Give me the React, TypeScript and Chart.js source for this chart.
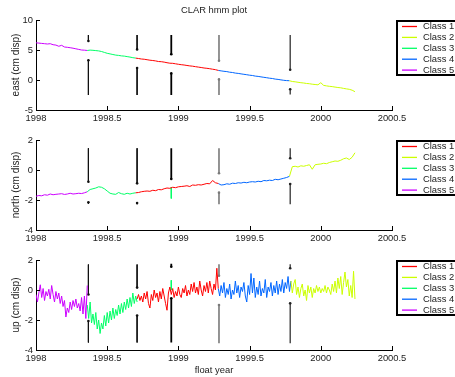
import React, { useEffect, useRef } from 'react';
import { Chart, registerables } from 'chart.js';

Chart.register(...registerables);

// ---------- sampling epochs (float year) for east / north ----------
const epochs = [
  1998.00, 1998.02, 1998.04, 1998.06, 1998.08, 1998.10, 1998.12, 1998.14, 1998.16, 1998.18,
  1998.20, 1998.22, 1998.24, 1998.26, 1998.28, 1998.30, 1998.32, 1998.34, 1998.36, 1998.38,
  1998.40, 1998.42, 1998.44, 1998.46, 1998.48, 1998.50, 1998.52, 1998.54, 1998.56, 1998.58,
  1998.60, 1998.62, 1998.64, 1998.66, 1998.68, 1998.70, 1998.72, 1998.74, 1998.76, 1998.78,
  1998.80, 1998.82, 1998.84, 1998.86, 1998.88, 1998.90, 1998.92, 1998.94, 1998.96, 1998.98,
  1999.00, 1999.02, 1999.04, 1999.06, 1999.08, 1999.10, 1999.12, 1999.14, 1999.16, 1999.18,
  1999.20, 1999.22, 1999.24, 1999.26, 1999.28, 1999.30, 1999.32, 1999.34, 1999.36, 1999.38,
  1999.40, 1999.42, 1999.44, 1999.46, 1999.48, 1999.50, 1999.52, 1999.54, 1999.56, 1999.58,
  1999.60, 1999.62, 1999.64, 1999.66, 1999.68, 1999.70, 1999.72, 1999.74, 1999.76, 1999.78,
  1999.80, 1999.82, 1999.84, 1999.86, 1999.88, 1999.90, 1999.92, 1999.94, 1999.96, 1999.98,
  2000.00, 2000.02, 2000.04, 2000.06, 2000.08, 2000.10, 2000.12, 2000.14, 2000.16, 2000.18,
  2000.20, 2000.22, 2000.24,
];

// ---------- denser sampling epochs for up ----------
const upEpochs = [
  1998.00, 1998.01, 1998.02, 1998.03, 1998.04, 1998.05, 1998.06, 1998.07, 1998.08, 1998.09,
  1998.10, 1998.11, 1998.12, 1998.13, 1998.14, 1998.15, 1998.16, 1998.17, 1998.18, 1998.19,
  1998.20, 1998.21, 1998.22, 1998.23, 1998.24, 1998.25, 1998.26, 1998.27, 1998.28, 1998.29,
  1998.30, 1998.31, 1998.32, 1998.33, 1998.34, 1998.35, 1998.36, 1998.37, 1998.38, 1998.39,
  1998.40, 1998.41, 1998.42, 1998.43, 1998.44, 1998.45, 1998.46, 1998.47, 1998.48, 1998.49,
  1998.50, 1998.51, 1998.52, 1998.53, 1998.54, 1998.55, 1998.56, 1998.57, 1998.58, 1998.59,
  1998.60, 1998.61, 1998.62, 1998.63, 1998.64, 1998.65, 1998.66, 1998.67, 1998.68, 1998.69,
  1998.70, 1998.71, 1998.72, 1998.73, 1998.74, 1998.75, 1998.76, 1998.77, 1998.78, 1998.79,
  1998.80, 1998.81, 1998.82, 1998.83, 1998.84, 1998.85, 1998.86, 1998.87, 1998.88, 1998.89,
  1998.90, 1998.91, 1998.92, 1998.93, 1998.94, 1998.95, 1998.96, 1998.97, 1998.98, 1998.99,
  1999.00, 1999.01, 1999.02, 1999.03, 1999.04, 1999.05, 1999.06, 1999.07, 1999.08, 1999.09,
  1999.10, 1999.11, 1999.12, 1999.13, 1999.14, 1999.15, 1999.16, 1999.17, 1999.18, 1999.19,
  1999.20, 1999.21, 1999.22, 1999.23, 1999.24, 1999.25, 1999.26, 1999.27, 1999.28, 1999.29,
  1999.30, 1999.31, 1999.32, 1999.33, 1999.34, 1999.35, 1999.36, 1999.37, 1999.38, 1999.39,
  1999.40, 1999.41, 1999.42, 1999.43, 1999.44, 1999.45, 1999.46, 1999.47, 1999.48, 1999.49,
  1999.50, 1999.51, 1999.52, 1999.53, 1999.54, 1999.55, 1999.56, 1999.57, 1999.58, 1999.59,
  1999.60, 1999.61, 1999.62, 1999.63, 1999.64, 1999.65, 1999.66, 1999.67, 1999.68, 1999.69,
  1999.70, 1999.71, 1999.72, 1999.73, 1999.74, 1999.75, 1999.76, 1999.77, 1999.78, 1999.79,
  1999.80, 1999.81, 1999.82, 1999.83, 1999.84, 1999.85, 1999.86, 1999.87, 1999.88, 1999.89,
  1999.90, 1999.91, 1999.92, 1999.93, 1999.94, 1999.95, 1999.96, 1999.97, 1999.98, 1999.99,
  2000.00, 2000.01, 2000.02, 2000.03, 2000.04, 2000.05, 2000.06, 2000.07, 2000.08, 2000.09,
  2000.10, 2000.11, 2000.12, 2000.13, 2000.14, 2000.15, 2000.16, 2000.17, 2000.18, 2000.19,
  2000.20, 2000.21, 2000.22, 2000.23, 2000.24,
];

// ---------- classes ----------
const classNames = ['Class 1', 'Class 2', 'Class 3', 'Class 4', 'Class 5'];
const classColors = ['#ff0000', '#ccff00', '#00ff66', '#0066ff', '#cc00ff'];
// index into the epoch list where each class segment begins (Class 1..5)
const classStart = [35, 89, 18, 64, 0];
const upClassStart = [71, 179, 36, 128, 0];

// ---------- east (cm) ----------
const eastClass1 = [3.65, 3.58, 3.5, 3.46, 3.38, 3.3, 3.25, 3.18, 3.08, 3.05, 2.98, 2.88, 2.8, 2.78, 2.7, 2.62, 2.55, 2.5, 2.42, 2.35, 2.3, 2.22, 2.15, 2.08, 2.0, 1.95, 1.88, 1.8, 1.72, 1.6];
const eastClass2 = [-0.12, -0.25, -0.3, -0.38, -0.45, -0.5, -0.58, -0.62, -0.7, -0.75, -0.8, -0.45, -0.9, -0.98, -1.05, -1.1, -1.18, -1.25, -1.3, -1.4, -1.48, -1.55, -1.7, -1.95];
const eastClass3 = [4.92, 4.98, 4.95, 4.9, 4.85, 4.75, 4.6, 4.45, 4.35, 4.25, 4.15, 4.1, 4.02, 3.98, 3.9, 3.82, 3.72, 3.65];
const eastClass4 = [1.6, 1.52, 1.45, 1.4, 1.3, 1.25, 1.15, 1.1, 1.02, 0.95, 0.88, 0.8, 0.75, 0.65, 0.6, 0.52, 0.45, 0.38, 0.3, 0.25, 0.15, 0.1, 0.02, -0.05, -0.1, -0.12];
const eastClass5 = [6.2, 6.15, 6.1, 6.05, 6.0, 6.05, 5.88, 5.82, 5.62, 5.78, 5.5, 5.45, 5.38, 5.3, 5.2, 5.1, 5.0, 4.97, 4.92];

// ---------- north (cm) ----------
const northClass1 = [-1.52, -1.5, -1.45, -1.42, -1.4, -1.42, -1.35, -1.38, -1.3, -1.32, -1.25, -1.2, -1.22, -1.15, -1.18, -1.12, -1.1, -1.08, -1.05, -1.1, -1.0, -1.02, -0.98, -1.0, -0.95, -0.9, -0.92, -0.7, -0.85, -0.9];
const northClass2 = [-0.42, 0.22, 0.25, 0.2, 0.28, 0.25, 0.3, 0.35, 0.05, 0.35, 0.38, 0.4, 0.45, 0.42, 0.5, 0.55, 0.6, 0.58, 0.65, 0.75, 0.8, 0.7, 0.85, 1.15];
const northClass3 = [-1.45, -1.3, -1.25, -1.2, -1.12, -1.15, -1.25, -1.4, -1.55, -1.6, -1.62, -1.5, -1.58, -1.62, -1.55, -1.6, -1.55, -1.52];
const northClass4 = [-0.9, -1.0, -0.98, -0.92, -0.95, -0.88, -0.9, -0.85, -0.87, -0.82, -0.85, -0.8, -0.78, -0.8, -0.75, -0.78, -0.7, -0.72, -0.68, -0.7, -0.62, -0.65, -0.6, -0.55, -0.5, -0.42];
const northClass5 = [-1.75, -1.7, -1.72, -1.65, -1.68, -1.6, -1.65, -1.62, -1.6, -1.58, -1.63, -1.6, -1.55, -1.6, -1.58, -1.55, -1.57, -1.52, -1.45];

// ---------- up (cm) ----------
const upClass1 = [
  -0.6, -0.3, -0.7, -0.4, -0.8, -0.2, -0.6, -0.1, -0.9, -1.2, -0.3, -0.7, 0.0, -0.5, -0.2, -0.8, -0.1, -0.6, 0.1, -0.4,
  -0.9, -1.35, -0.2, 0.2, -0.3, 0.1, -0.5, -0.1, -0.4, 0.2, -0.3, -0.5, 0.1, -0.2, 0.3, -0.4, 0.0, -0.3, 0.4, -0.1,
  0.5, -0.2, 0.2, -0.3, 0.6, 0.0, -0.4, 0.3, -0.1, 0.5, -0.2, 0.6, 0.1, -0.3, 0.4, 0.0, 1.45, 0.1,
];
const upClass2 = [
  0.6, -0.2, 0.4, 0.7, -0.3, 0.2, -0.5, 0.1, 0.4, -0.4, 0.0, -0.7, 0.3, -0.2, 0.2, -0.5, 0.1, -0.2, 0.3, -0.1,
  0.2, -0.2, 0.1, -0.1, 0.3, -0.2, 0.2, 0.0, -0.3, 0.4, -0.1, 0.6, -0.2, 0.8, 0.1, 0.9, -0.3, 0.5, 1.2, 0.2,
  0.7, -0.4, 0.3, -0.5, 1.25, -0.6,
];
const upClass3 = [
  -1.0, -1.9, -0.8, -2.2, -1.6, -2.3, -1.5, -2.6, -2.0, -2.9, -2.2, -2.6, -1.7, -2.4, -1.5, -2.2, -1.4, -2.0, -1.2, -1.9,
  -1.3, -1.7, -1.0, -1.6, -0.9, -1.5, -0.8, -1.3, -0.6, -1.2, -0.5, -1.1, -0.2, -0.9, -0.4, -0.8,
];
const upClass4 = [
  0.1, -0.4, 0.3, -0.2, 0.5, -0.5, 0.1, -0.3, 0.4, -0.6, 0.0, -0.3, 0.6, -0.2, 0.3, -0.5, 0.2, -0.1, 0.5, -0.4,
  -0.8, 0.3, -0.3, 1.1, -0.2, 0.8, -0.5, 0.2, -0.3, 0.6, -0.4, 0.1, -0.2, 0.7, -0.5, 0.2, -0.1, 0.5, -0.4, 0.3,
  -0.2, 0.6, -0.3, 0.4, -0.1, 0.7, -0.2, 0.5, 0.1, 0.9, -0.1, 0.6,
];
const upClass5 = [
  -0.3, -0.8, -0.2, 0.35, -0.5, 0.1, -0.7, -0.1, -0.4, 0.05, -0.6, 0.3, -0.3, -0.8, -0.1, -0.6, -0.2, -0.9, -0.4, -1.1,
  -0.7, -1.8, -1.2, -1.5, -0.8, -1.3, -0.7, -1.1, -0.6, -1.2, -0.9, -1.4, -0.5, -1.6, -0.4, -1.9, 0.3,
];

// isolated Class 3 sample inside the Class 1 span
const class3SpikeTime = 1998.95;
const northClass3Spike = [-1.15, -1.9];
const upClass3Spike = [0.65, 0.0];

// ---------- change-point markers ----------
const markerTimes = [1998.368, 1998.71, 1998.95, 1999.285, 1999.785];
const eastMarkTop = [7.5, 7.5, 7.5, 7.5, 7.5];
const eastMarkUpperEnd = [6.5, 5.1, 4.3, 3.2, 1.7];
const eastMarkLowerStart = [3.3, 2.0, 1.1, 0.1, -1.55];
const eastMarkBottom = [-2.5, -2.5, -2.5, -2.5, -2.4];
const northMarkTop = [1.45, 1.45, 1.45, 1.45, 1.45];
const northMarkUpperEnd = [-0.78, -0.89, -0.6, -0.22, 0.78];
const northMarkLowerStart = [-2.15, -2.2, null, -1.51, -0.93];
const northMarkBottom = [-2.25, -2.28, null, -2.29, -2.29];
const upMarkTop = [1.7, 1.7, 1.75, 1.71, 1.71];
const upMarkUpperEnd = [-0.3, 0.16, 1.55, 0.95, 1.45];
const upMarkLowerStart = [-2.07, -1.7, -0.55, -1.0, -0.89];
const upMarkBottom = [-3.5, -3.5, -3.5, -3.55, -3.55];
const markerColors = ['#111111', '#111111', '#000000', '#7a7a7a', '#222222'];
const markerWidths = [1, 1, 1.8, 1.6, 1.2];

// ---------- axes ----------
const xMin = 1998;
const xMax = 2000.5;
const xTickStep = 0.5;

const FONT = "'Liberation Sans', Arial, Helvetica, sans-serif";
const TEXT = '#222222';

type Panel = {
  yLabel: string;
  yMin: number;
  yMax: number;
  yStep: number;
  top: number;
  height: number;
  padTop: number;
  xAxisH: number;
  title?: string;
  xTitle?: string;
  times: number[];
  starts: number[];
  classes: number[][];
  spike?: number[];
  mark: (number | null)[][];
};

const panels: Panel[] = [
  {
    yLabel: 'east (cm disp)', yMin: -5, yMax: 10, yStep: 5,
    top: 0, height: 125, padTop: 20, xAxisH: 15, title: 'CLAR hmm plot',
    times: epochs, starts: classStart,
    classes: [eastClass1, eastClass2, eastClass3, eastClass4, eastClass5],
    mark: [eastMarkTop, eastMarkUpperEnd, eastMarkLowerStart, eastMarkBottom],
  },
  {
    yLabel: 'north (cm disp)', yMin: -4, yMax: 2, yStep: 2,
    top: 125, height: 120, padTop: 15, xAxisH: 15,
    times: epochs, starts: classStart,
    classes: [northClass1, northClass2, northClass3, northClass4, northClass5],
    spike: northClass3Spike,
    mark: [northMarkTop, northMarkUpperEnd, northMarkLowerStart, northMarkBottom],
  },
  {
    yLabel: 'up (cm disp)', yMin: -4, yMax: 2, yStep: 2,
    top: 245, height: 132, padTop: 15, xAxisH: 27, xTitle: 'float year',
    times: upEpochs, starts: upClassStart,
    classes: [upClass1, upClass2, upClass3, upClass4, upClass5],
    spike: upClass3Spike,
    mark: [upMarkTop, upMarkUpperEnd, upMarkLowerStart, upMarkBottom],
  },
];

const decor = {
  id: 'decor',
  afterDraw(chart: any, _args: any, opts: any) {
    const ctx = chart.ctx as CanvasRenderingContext2D;
    const area = chart.chartArea;
    const xs = chart.scales.x;
    const ys = chart.scales.y;
    ctx.save();
    // inward tick marks
    ctx.strokeStyle = '#000';
    ctx.lineWidth = 1;
    ctx.beginPath();
    xs.ticks.forEach((t: any) => {
      const px = Math.round(xs.getPixelForValue(t.value)) + 0.5;
      ctx.moveTo(px, area.bottom);
      ctx.lineTo(px, area.bottom - 4);
    });
    ys.ticks.forEach((t: any) => {
      const py = Math.round(ys.getPixelForValue(t.value)) + 0.5;
      ctx.moveTo(area.left, py);
      ctx.lineTo(area.left + 4, py);
    });
    ctx.stroke();

    ctx.fillStyle = TEXT;
    ctx.textAlign = 'center';
    ctx.textBaseline = 'middle';
    // y label
    ctx.save();
    ctx.font = `10px ${FONT}`;
    ctx.translate(16, (area.top + area.bottom) / 2);
    ctx.rotate(-Math.PI / 2);
    ctx.fillText(opts.yLabel, 0, 0);
    ctx.restore();
    ctx.font = `9.4px ${FONT}`;
    if (opts.title) ctx.fillText(opts.title, (area.left + area.right) / 2, 10);
    if (opts.xTitle) ctx.fillText(opts.xTitle, (area.left + area.right) / 2, area.bottom + 20);

    // legend
    const bx = 396;
    const by = area.top;
    ctx.fillStyle = '#fff';
    ctx.fillRect(bx, by, 70, 55);
    ctx.strokeStyle = '#000';
    ctx.lineWidth = 2;
    ctx.strokeRect(bx + 1, by + 1, 70, 54);
    ctx.textAlign = 'left';
    const ds = chart.data.datasets.filter((d: any) => d.isClass);
    ds.forEach((d: any, i: number) => {
      const y = by + 6.5 + i * 10.9;
      ctx.strokeStyle = d.borderColor;
      ctx.lineWidth = 1.3;
      ctx.beginPath();
      ctx.moveTo(402, y);
      ctx.lineTo(417, y);
      ctx.stroke();
      ctx.fillStyle = TEXT;
      ctx.fillText(d.label, 423, y);
    });
    ctx.restore();
  },
};

function markerSegment(t: number, a: number | null, b: number | null, dotIndex: number, i: number) {
  if (a === null || b === null) return null;
  return {
    label: 'marker',
    isClass: false,
    data: [{ x: t, y: a }, { x: t, y: b }],
    borderColor: markerColors[i],
    backgroundColor: markerColors[i],
    borderWidth: markerWidths[i],
    pointRadius: (ctx: any) => (ctx.dataIndex === dotIndex ? 1.3 : 0),
    pointBorderWidth: 0,
    tension: 0,
  };
}

function buildDatasets(p: Panel) {
  const sets: any[] = p.classes.map((vals, c) => {
    const data: any[] = vals.map((v, k) => ({ x: p.times[p.starts[c] + k], y: v }));
    if (c === 2 && p.spike) {
      data.push({ x: class3SpikeTime, y: null });
      p.spike.forEach((v) => data.push({ x: class3SpikeTime, y: v }));
    }
    return {
      label: classNames[c],
      isClass: true,
      data,
      borderColor: classColors[c],
      backgroundColor: classColors[c],
      borderWidth: 1,
      pointRadius: 0,
      tension: 0,
      spanGaps: false,
    };
  });
  markerTimes.forEach((t, i) => {
    const [top, upEnd, loStart, bottom] = p.mark.map((arr) => arr[i]);
    const upper = markerSegment(t, top, upEnd, 1, i);
    const lower = markerSegment(t, loStart, bottom, 0, i);
    if (upper) sets.push(upper);
    if (lower) sets.push(lower);
  });
  return sets;
}

export default function App() {
  const refs = useRef<(HTMLCanvasElement | null)[]>([]);

  useEffect(() => {
    const charts = panels.map((p, i) => {
      const canvas = refs.current[i] as HTMLCanvasElement;
      return new Chart(canvas, {
        type: 'line',
        data: { datasets: buildDatasets(p) },
        options: {
          animation: false,
          responsive: false,
          maintainAspectRatio: false,
          devicePixelRatio: 1,
          layout: { padding: { top: p.padTop, right: 63, left: 0, bottom: 0 } },
          plugins: {
            legend: { display: false },
            tooltip: { enabled: false },
            title: { display: false },
            decor: { yLabel: p.yLabel, title: p.title, xTitle: p.xTitle },
          } as any,
          scales: {
            x: {
              type: 'linear',
              min: xMin,
              max: xMax,
              grid: { display: false, drawTicks: false },
              border: { display: true, color: '#000', width: 1 },
              ticks: {
                stepSize: xTickStep,
                autoSkip: false,
                maxRotation: 0,
                padding: 3,
                color: TEXT,
                font: { family: FONT, size: 9.4 },
                callback: (v: any) => String(v),
              },
              afterFit: (s: any) => { s.height = p.xAxisH; },
            },
            y: {
              type: 'linear',
              min: p.yMin,
              max: p.yMax,
              grid: { display: false, drawTicks: false },
              border: { display: true, color: '#000', width: 1 },
              ticks: {
                stepSize: p.yStep,
                padding: 3,
                color: TEXT,
                font: { family: FONT, size: 9.4 },
                callback: (v: any) => String(v),
              },
              afterFit: (s: any) => { s.width = 36; },
            },
          },
        },
        plugins: [decor],
      });
    });
    return () => charts.forEach((c) => c.destroy());
  }, []);

  return (
    <div style={{ position: 'fixed', left: 0, top: 0, width: 455, height: 377, background: '#fff', overflow: 'hidden' }}>
      {panels.map((p, i) => (
        <canvas
          key={i}
          ref={(el) => { refs.current[i] = el; }}
          width={455}
          height={p.height}
          style={{ position: 'absolute', left: 0, top: p.top, width: 455, height: p.height }}
        />
      ))}
    </div>
  );
}
